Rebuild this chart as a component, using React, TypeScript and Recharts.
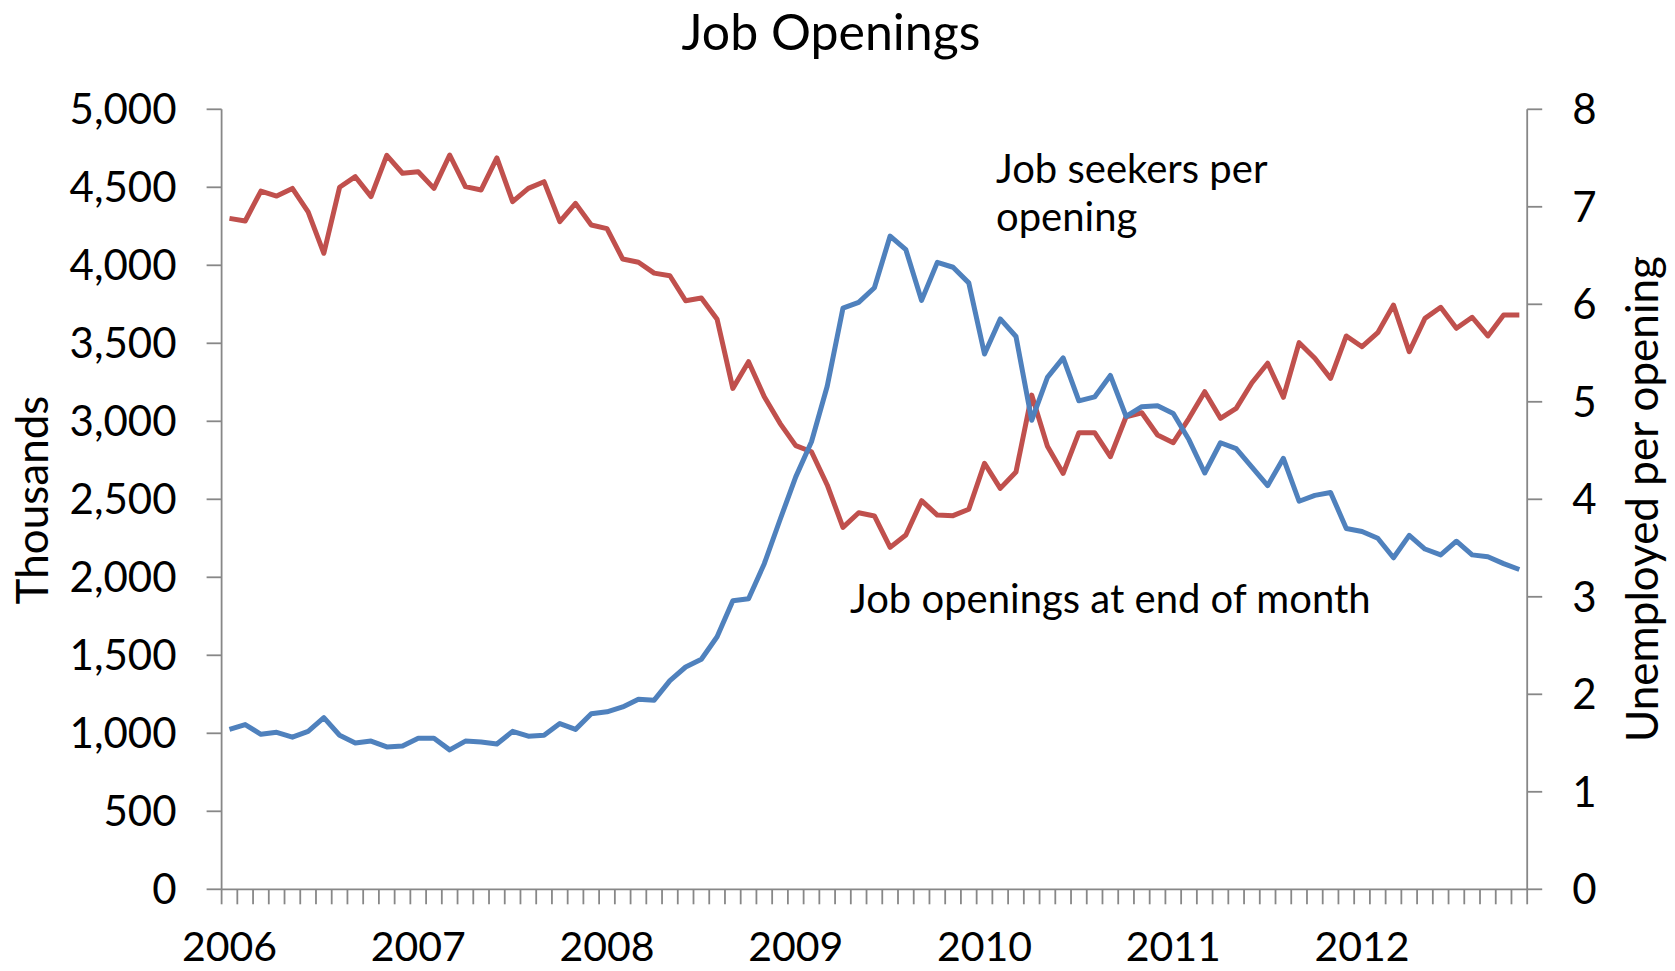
import { LineChart, Line, XAxis, YAxis } from "recharts"

const YEARS = ["2006", "2007", "2008", "2009", "2010", "2011", "2012"]
// Jan 2006 .. Nov 2012
const MONTHS = YEARS.flatMap((y) =>
  ["01", "02", "03", "04", "05", "06", "07", "08", "09", "10", "11", "12"].map((m) => `${y}-${m}`)
).slice(0, 83)

// job openings, thousands (left axis)
const OPENINGS = [
  4301, 4284, 4476, 4444, 4493, 4343, 4077, 4500, 4568, 4440, 4705, 4590,
  4600, 4493, 4707, 4504, 4483, 4688, 4408, 4493, 4536, 4280, 4397, 4258,
  4235, 4040, 4020, 3950, 3933, 3773, 3790, 3654, 3211, 3382, 3158, 2987,
  2844, 2805, 2592, 2320, 2414, 2393, 2192, 2271, 2491, 2399, 2395, 2436,
  2731, 2570, 2675, 3168, 2840, 2666, 2927, 2927, 2773, 3029, 3055, 2912,
  2863, 3019, 3190, 3019, 3083, 3247, 3372, 3154, 3504, 3404, 3275, 3547,
  3478, 3568, 3745, 3446, 3660, 3731, 3596, 3667, 3547, 3681, 3681,
]

// unemployed per opening (right axis)
const SEEKERS = [
  1.64, 1.69, 1.59, 1.61, 1.56, 1.62, 1.76, 1.58, 1.5, 1.52, 1.46, 1.47,
  1.55, 1.55, 1.43, 1.52, 1.51, 1.49, 1.62, 1.57, 1.58, 1.7, 1.64, 1.8,
  1.82, 1.87, 1.95, 1.94, 2.14, 2.28, 2.36, 2.59, 2.96, 2.98, 3.34, 3.79,
  4.23, 4.59, 5.16, 5.96, 6.02, 6.17, 6.7, 6.56, 6.04, 6.43, 6.38, 6.22,
  5.49, 5.85, 5.67, 4.81, 5.25, 5.45, 5.01, 5.05, 5.27, 4.85, 4.95, 4.96,
  4.88, 4.61, 4.27, 4.58, 4.52, 4.33, 4.14, 4.42, 3.98, 4.04, 4.07, 3.7,
  3.67, 3.6, 3.4, 3.63, 3.49, 3.43, 3.57, 3.43, 3.41, 3.34, 3.28,
]

const LEFT_TICKS = [0, 500, 1000, 1500, 2000, 2500, 3000, 3500, 4000, 4500, 5000]
const RIGHT_TICKS = [0, 1, 2, 3, 4, 5, 6, 7, 8]

const data = MONTHS.map((month, i) => ({ month, openings: OPENINGS[i], seekers: SEEKERS[i] }))

const W = 1675
const H = 971
const PLOT_LEFT = 221.6
const PLOT_RIGHT = 1527.2
const PLOT_TOP = 109.3
const PLOT_BOTTOM = 889.3
const STEP = (PLOT_RIGHT - PLOT_LEFT) / MONTHS.length
const AXIS = "#878787"
const FONT = "Lato, sans-serif"

function MonthTick(props: any) {
  const { x, y, payload, index } = props
  const half = STEP / 2
  const isYear = String(payload.value).endsWith("-01")
  return (
    <g>
      <line x1={x - half} x2={x - half} y1={y} y2={y + 15} stroke={AXIS} strokeWidth={1.8} />
      {index === MONTHS.length - 1 && (
        <line x1={x + half} x2={x + half} y1={y} y2={y + 15} stroke={AXIS} strokeWidth={1.8} />
      )}
      {isYear && (
        <text x={x} y={y + 72} textAnchor="middle" fontSize={41} fontFamily={FONT} fill="#000">
          {String(payload.value).slice(0, 4)}
        </text>
      )}
    </g>
  )
}

export default function App() {
  return (
    <div style={{ position: "absolute", left: 0, top: 0, width: W, height: H, background: "#fff" }}>
      <LineChart width={W} height={H} data={data} margin={{ top: PLOT_TOP, right: 0, bottom: 0, left: 0 }}>
        <XAxis
          dataKey="month"
          interval={0}
          tickLine={false}
          tickSize={0}
          tickMargin={0}
          height={H - PLOT_BOTTOM}
          padding={{ left: STEP / 2, right: STEP / 2 }}
          axisLine={{ stroke: AXIS, strokeWidth: 1.8 }}
          tick={<MonthTick />}
        />
        <YAxis
          yAxisId="left"
          orientation="left"
          width={PLOT_LEFT}
          domain={[0, 5000]}
          ticks={LEFT_TICKS}
          interval={0}
          tickSize={15}
          tickMargin={30}
          tickFormatter={(v: number) => v.toLocaleString("en-US")}
          axisLine={{ stroke: AXIS, strokeWidth: 1.8 }}
          tickLine={{ stroke: AXIS, strokeWidth: 1.8 }}
          tick={{ fill: "#000", fontSize: 42, fontFamily: FONT }}
        />
        <YAxis
          yAxisId="right"
          orientation="right"
          width={W - PLOT_RIGHT}
          domain={[0, 8]}
          ticks={RIGHT_TICKS}
          interval={0}
          tickSize={15}
          tickMargin={30}
          axisLine={{ stroke: AXIS, strokeWidth: 1.8 }}
          tickLine={{ stroke: AXIS, strokeWidth: 1.8 }}
          tick={{ fill: "#000", fontSize: 42, fontFamily: FONT }}
        />
        <Line
          yAxisId="left"
          dataKey="openings"
          stroke="#C0504D"
          strokeWidth={5}
          strokeLinejoin="round"
          dot={false}
          isAnimationActive={false}
        />
        <Line
          yAxisId="right"
          dataKey="seekers"
          stroke="#4F81BD"
          strokeWidth={5}
          strokeLinejoin="round"
          dot={false}
          isAnimationActive={false}
        />

        <text x={831} y={50} textAnchor="middle" fontSize={50} fontFamily={FONT} fill="#000">
          Job Openings
        </text>
        <text x={996} y={183} fontSize={40} fontFamily={FONT} fill="#000">
          Job seekers per
        </text>
        <text x={996} y={231} fontSize={40} fontFamily={FONT} fill="#000">
          opening
        </text>
        <text x={850} y={613} fontSize={40} fontFamily={FONT} fill="#000">
          Job openings at end of month
        </text>
        <text
          x={48}
          y={500}
          transform="rotate(-90 48 500)"
          textAnchor="middle"
          fontSize={44}
          fontFamily={FONT}
          fill="#000"
        >
          Thousands
        </text>
        <text
          x={1658}
          y={499}
          transform="rotate(-90 1658 499)"
          textAnchor="middle"
          fontSize={44}
          fontFamily={FONT}
          fill="#000"
        >
          Unemployed per opening
        </text>
      </LineChart>
    </div>
  )
}
